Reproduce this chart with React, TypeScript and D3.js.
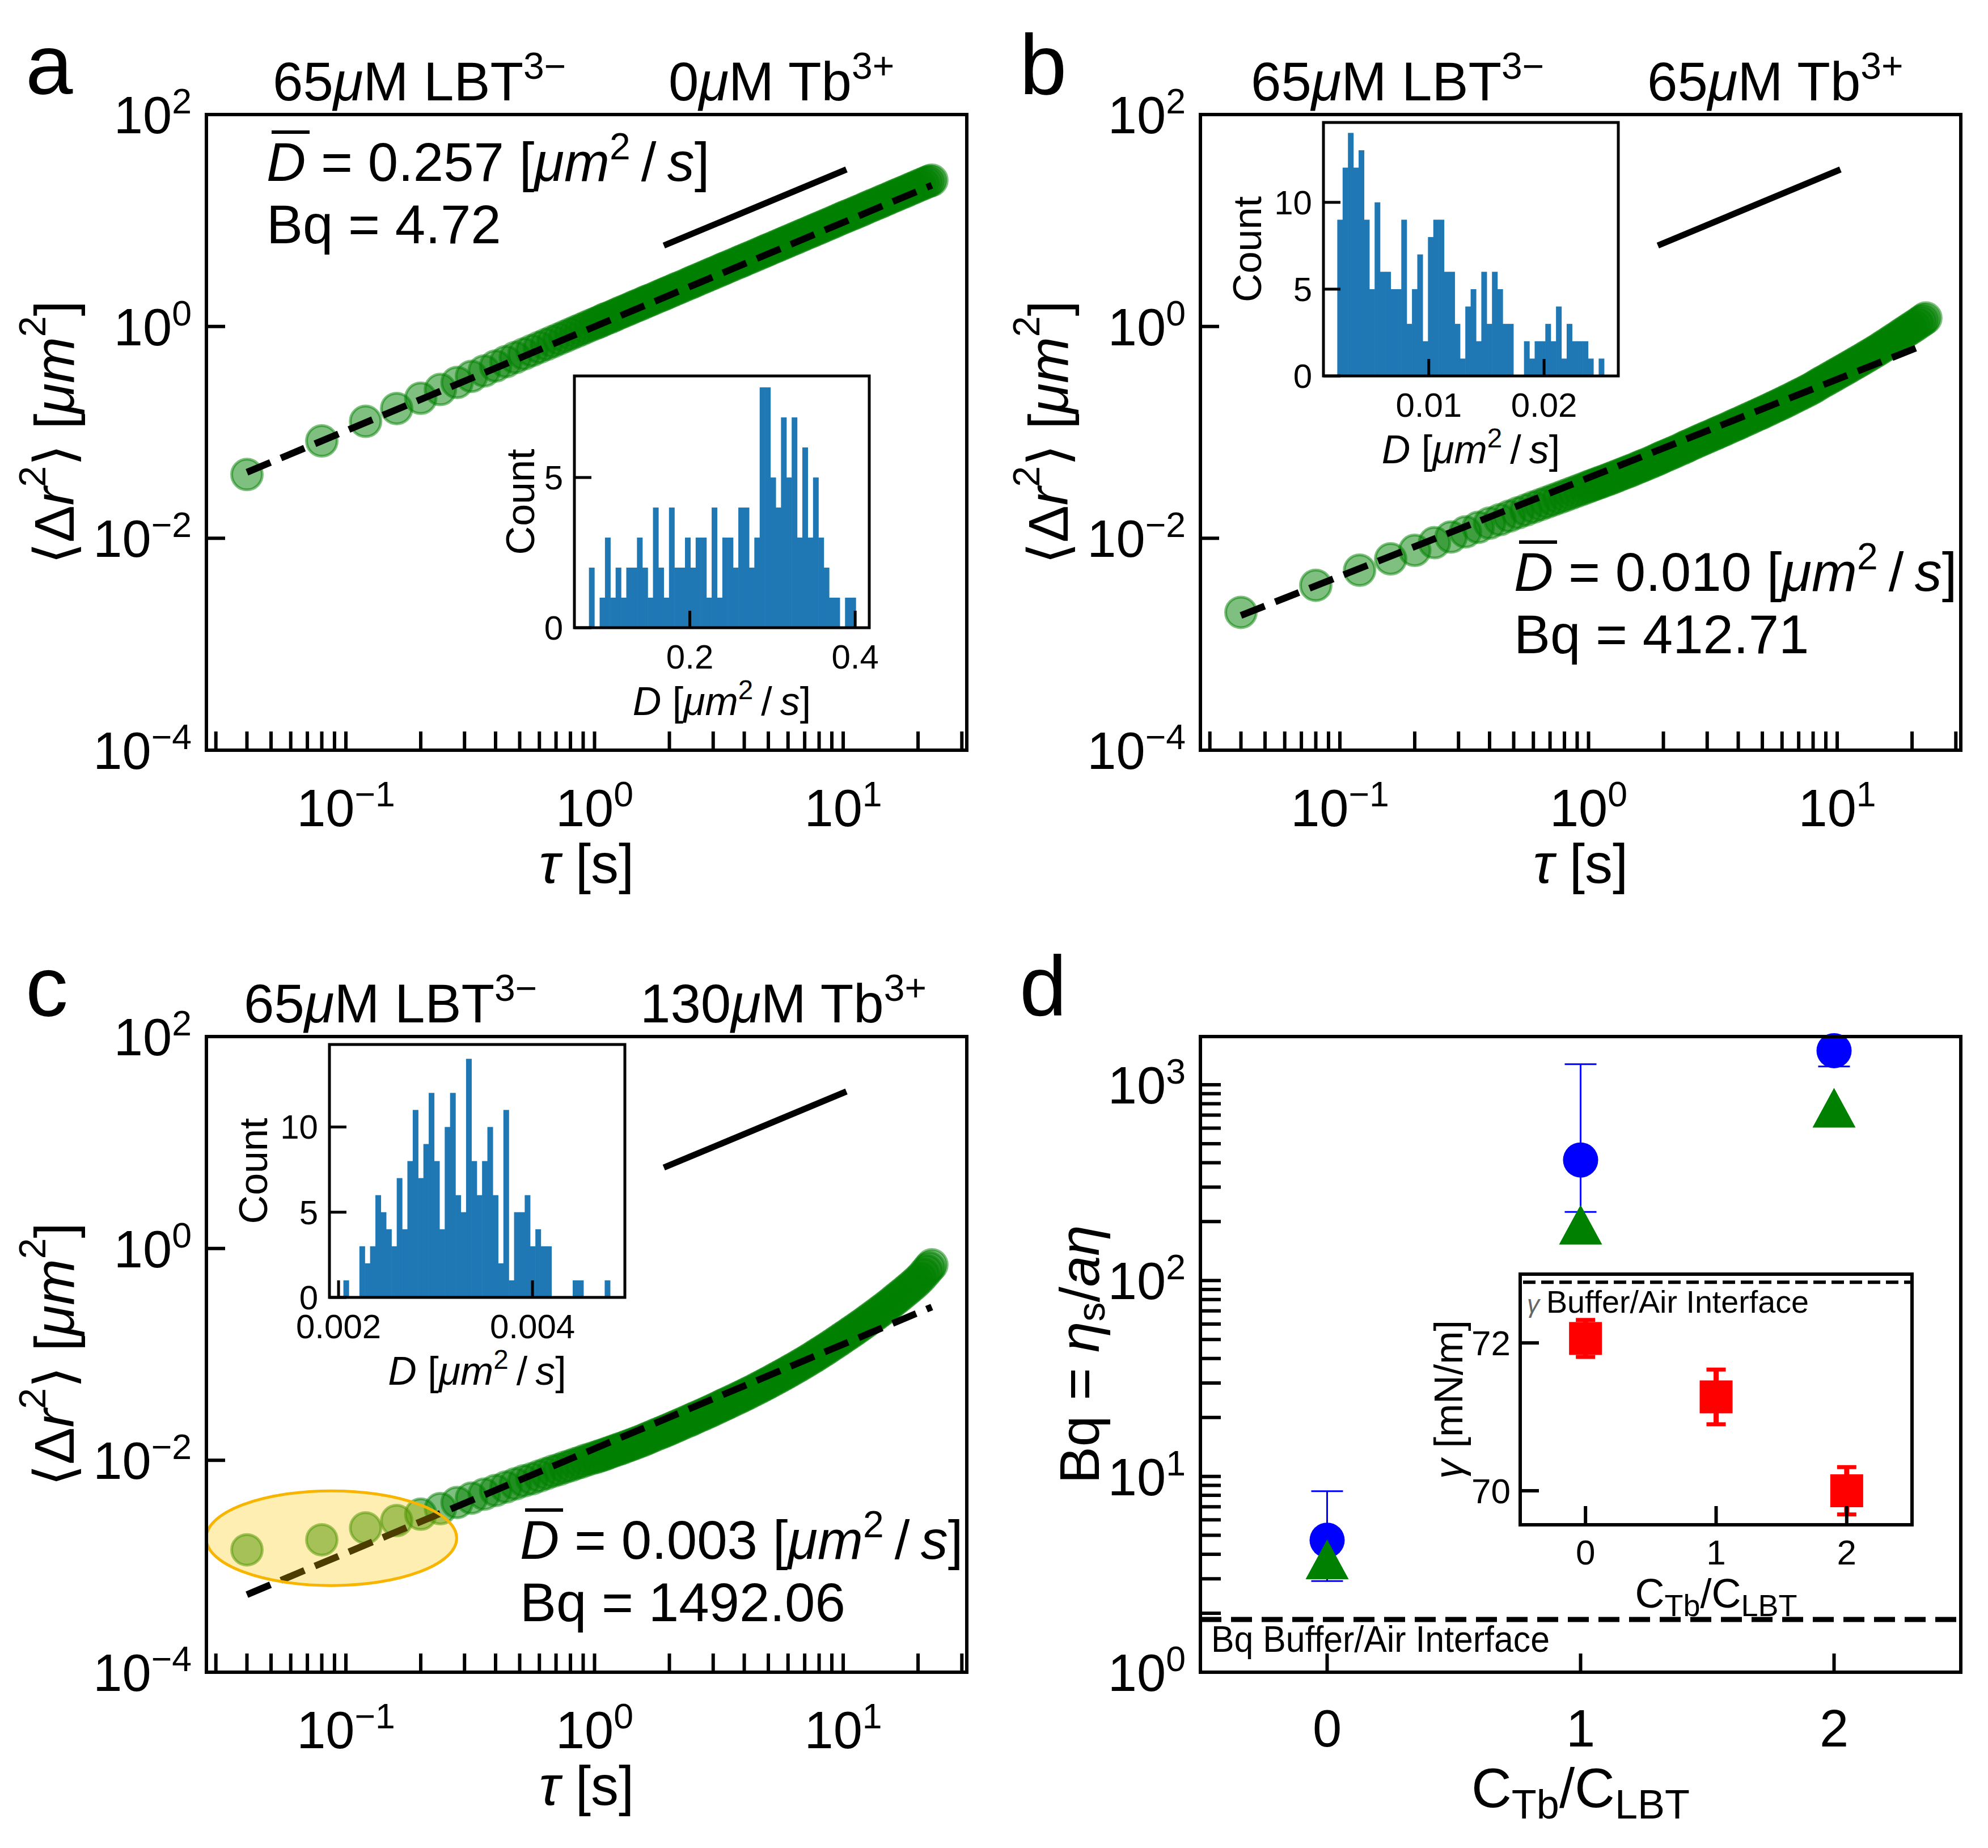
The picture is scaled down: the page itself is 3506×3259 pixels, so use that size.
import React, { useEffect } from 'react'
import * as d3 from 'd3'

const FONT = '"Liberation Sans", Arial, Helvetica, sans-serif'
const W = 3506
const H = 3259
const BW = 1341
const BH = 1121

// lag times [s]
const tau = [
  0.04, 0.08, 0.12, 0.16, 0.2, 0.24, 0.28, 0.32, 0.36, 0.4,
  0.44, 0.48, 0.52, 0.56, 0.6, 0.64, 0.68, 0.72, 0.76, 0.8,
  0.84, 0.88, 0.92, 0.96, 1.0,
  1.03, 1.06, 1.09, 1.12, 1.155, 1.19, 1.225, 1.26, 1.3, 1.34,
  1.38, 1.42, 1.46, 1.5, 1.55, 1.6, 1.64, 1.68, 1.74, 1.8,
  1.85, 1.9, 1.95, 2.0, 2.06, 2.12, 2.18, 2.24, 2.32, 2.4,
  2.46, 2.52, 2.6, 2.68, 2.76, 2.84, 2.92, 3.0, 3.1, 3.2,
  3.28, 3.36, 3.46, 3.56, 3.68, 3.8, 3.9, 4.0, 4.12, 4.24,
  4.38, 4.52, 4.66, 4.8, 4.92, 5.04, 5.2, 5.36, 5.52, 5.68,
  5.84, 6.0, 6.18, 6.36, 6.56, 6.76, 6.96, 7.16, 7.38, 7.6,
  7.82, 8.04, 8.28, 8.52, 8.78, 9.04, 9.32, 9.6, 9.88, 10.16,
  10.46, 10.76, 11.08, 11.4, 11.74, 12.08, 12.44, 12.8, 13.2, 13.6,
  14.0, 14.4, 14.84, 15.28, 15.74, 16.2, 16.68, 17.16, 17.68, 18.2,
  18.74, 19.28, 19.86, 20.44, 21.06, 21.68, 22.2, 22.72,
]

const msdA = [
  0.04, 0.083, 0.127, 0.168, 0.21, 0.254, 0.296, 0.338, 0.38, 0.423,
  0.465, 0.508, 0.55, 0.592, 0.635, 0.677, 0.72, 0.762, 0.805, 0.848,
  0.89, 0.933, 0.975, 1.02, 1.06,
  1.09, 1.12, 1.16, 1.19, 1.22, 1.26, 1.3, 1.34, 1.38, 1.42,
  1.46, 1.51, 1.55, 1.59, 1.64, 1.7, 1.74, 1.78, 1.84, 1.91,
  1.96, 2.01, 2.07, 2.12, 2.18, 2.25, 2.31, 2.37, 2.46, 2.54,
  2.61, 2.67, 2.76, 2.84, 2.93, 3.01, 3.1, 3.18, 3.29, 3.39,
  3.48, 3.56, 3.67, 3.77, 3.9, 4.03, 4.13, 4.24, 4.37, 4.49,
  4.64, 4.79, 4.94, 5.09, 5.22, 5.34, 5.51, 5.68, 5.85, 6.02,
  6.19, 6.36, 6.55, 6.74, 6.95, 7.17, 7.38, 7.59, 7.82, 8.06,
  8.29, 8.52, 8.78, 9.03, 9.31, 9.58, 9.88, 10.2, 10.5, 10.8,
  11.1, 11.4, 11.7, 12.1, 12.4, 12.8, 13.2, 13.6, 14.0, 14.4,
  14.8, 15.3, 15.7, 16.2, 16.7, 17.2, 17.7, 18.2, 18.7, 19.3,
  19.9, 20.4, 21.1, 21.7, 22.3, 23.0, 23.5, 24.0,
]
const msdB = [
  0.002, 0.0036, 0.005, 0.0064, 0.0077, 0.0091, 0.0103, 0.0115, 0.0127, 0.0139,
  0.015, 0.0162, 0.0174, 0.0185, 0.0197, 0.0208, 0.0219, 0.023, 0.0241, 0.0252,
  0.0263, 0.0274, 0.0285, 0.0296, 0.0307,
  0.0315, 0.0323, 0.0331, 0.0339, 0.0348, 0.0357, 0.0366, 0.0376, 0.0387, 0.0398,
  0.0409, 0.042, 0.0431, 0.0441, 0.0456, 0.047, 0.0482, 0.0493, 0.051, 0.0527,
  0.0542, 0.0558, 0.0574, 0.059, 0.0607, 0.0625, 0.0642, 0.066, 0.0685, 0.071,
  0.073, 0.075, 0.0775, 0.08, 0.0825, 0.085, 0.0875, 0.09, 0.093, 0.096,
  0.0985, 0.101, 0.104, 0.107, 0.111, 0.115, 0.118, 0.121, 0.125, 0.129,
  0.1335, 0.138, 0.1425, 0.147, 0.151, 0.155, 0.1605, 0.166, 0.1715, 0.177,
  0.1825, 0.188, 0.1945, 0.201, 0.2085, 0.216, 0.2235, 0.231, 0.2395, 0.248,
  0.257, 0.266, 0.278, 0.29, 0.3015, 0.313, 0.326, 0.339, 0.3525, 0.366,
  0.3805, 0.395, 0.411, 0.427, 0.4445, 0.462, 0.481, 0.5, 0.5225, 0.545,
  0.5675, 0.59, 0.6175, 0.645, 0.675, 0.705, 0.7375, 0.77, 0.8075, 0.845,
  0.885, 0.925, 0.9675, 1.01, 1.06, 1.11, 1.155, 1.2,
]
const msdC = [
  0.00143, 0.00178, 0.0023, 0.0027, 0.0031, 0.0035, 0.004, 0.0044, 0.0048, 0.0052,
  0.0056, 0.006, 0.0064, 0.0067, 0.0071, 0.0075, 0.0079, 0.0082, 0.0086, 0.0089,
  0.0093, 0.0096, 0.01, 0.0103, 0.0106,
  0.0108, 0.0111, 0.0113, 0.0116, 0.0119, 0.0122, 0.0125, 0.0128, 0.0131, 0.0135,
  0.0138, 0.0142, 0.0145, 0.0149, 0.0153, 0.0158, 0.0162, 0.0166, 0.0172, 0.0178,
  0.0182, 0.0187, 0.0192, 0.0197, 0.0203, 0.0209, 0.0215, 0.0221, 0.0229, 0.0237,
  0.0243, 0.025, 0.0258, 0.0266, 0.0274, 0.0283, 0.0291, 0.03, 0.0311, 0.0322,
  0.0331, 0.034, 0.0351, 0.0362, 0.0376, 0.039, 0.0401, 0.0413, 0.0427, 0.0442,
  0.0459, 0.0477, 0.0495, 0.0513, 0.0529, 0.0545, 0.0567, 0.059, 0.0612, 0.0635,
  0.0658, 0.0682, 0.071, 0.0738, 0.0769, 0.08, 0.0834, 0.0868, 0.0906, 0.0945,
  0.0987, 0.103, 0.1075, 0.112, 0.1175, 0.123, 0.129, 0.135, 0.1415, 0.148,
  0.155, 0.162, 0.17, 0.178, 0.187, 0.196, 0.206, 0.216, 0.228, 0.24,
  0.2525, 0.265, 0.28, 0.295, 0.3125, 0.33, 0.349, 0.368, 0.39, 0.412,
  0.437, 0.462, 0.493, 0.525, 0.57, 0.615, 0.66, 0.7,
]

// fitted lines [tau, msd] end points
const fitA = [[0.04, 0.042], [22.72, 21.5]]
const fitB = [[0.04, 0.00187], [22.72, 0.68]]
const fitC = [[0.04, 0.00054], [22.72, 0.28]]
// slope-one guide
const slopeOne = [[1.9, 5.8], [10.3, 30.3]]
// highlighted early-time region in c: tau range, msd range
const highlightTau = [0.0274, 0.279]
const highlightMsd = [0.000658, 0.00515]

const tauDomain = [10 ** -1.561, 10 ** 1.497]
const msdDomain = [1e-4, 1e2]
const msdYTicks = [1e-4, 1e-2, 1, 1e2]
const tauLabelTicks = [0.1, 1, 10]

// histograms of D (50 bins each)
const histA = [2, 0, 1, 3, 1, 2, 1, 2, 2, 3, 2, 1, 4, 2, 1, 4, 2, 2, 3, 2, 3, 3, 1, 4, 1, 3, 3, 2, 4, 4, 2, 3, 8, 8, 5, 4, 7, 5, 7, 3, 6, 3, 5, 3, 2, 1, 1, 0, 1, 1]
const histRangeA = [0.078, 0.4006]
const histB = [9, 12, 14, 12, 13, 9, 5, 10, 6, 6, 5, 5, 9, 3, 5, 7, 2, 8, 9, 9, 6, 6, 3, 1, 4, 5, 2, 6, 3, 6, 5, 3, 3, 0, 0, 2, 1, 2, 2, 3, 2, 4, 1, 3, 2, 2, 2, 1, 0, 1]
const histRangeB = [0.00206, 0.0252]
const histC = [1, 0, 0, 3, 2, 3, 6, 5, 4, 3, 7, 4, 8, 11, 7, 9, 12, 8, 4, 10, 12, 6, 5, 14, 8, 6, 8, 10, 6, 2, 11, 1, 5, 5, 6, 3, 4, 3, 3, 0, 0, 0, 0, 1, 1, 0, 0, 0, 0, 1]
const histRangeC = [0.00205, 0.0048]

// panel d
const ratio = [0, 1, 2]
const bqCircle = [4.72, 412.71, 1492.06]
const bqCircleLo = [2.92, 224, 1240]
const bqCircleHi = [8.4, 1274, 1560]
const bqTriangle = [3.77, 193, 763]
const bqBuffer = 1.86
const gamma = [72.06, 71.27, 70.0]
const gammaErr = [0.25, 0.37, 0.32]
const gammaBuffer = 72.82

const TICK = 92
const expStr = (v: number) => {
  const e = Math.round(Math.log10(v))
  return e < 0 ? '\u2212' + -e : String(e)
}

function Pow({ x, y, v, anchor = 'middle', size = TICK }: any) {
  return (
    <text x={x} y={y} textAnchor={anchor} fontSize={size}>
      10<tspan dy={-size * 0.38} fontSize={size * 0.68}>{expStr(v)}</tspan>
    </text>
  )
}

function Title({ x, y, amount, ion, charge }: any) {
  return (
    <text x={x} y={y} fontSize={96}>
      {amount}<tspan fontStyle="italic">{'\u03bc'}</tspan>M {ion}
      <tspan dy={-38} fontSize={66}>{charge}</tspan>
    </text>
  )
}

function DLabel({ x, y, size }: any) {
  return (
    <text x={x} y={y} fontSize={size} textAnchor="middle">
      <tspan fontStyle="italic">D</tspan> [<tspan fontStyle="italic">{'\u03bcm'}</tspan>
      <tspan dy={-size * 0.4} fontSize={size * 0.68}>2</tspan>
      <tspan dy={size * 0.4}>{'\u2009/\u2009'}</tspan><tspan fontStyle="italic">s</tspan>]
    </text>
  )
}

function HistInset({ left, top, w, h, counts, range, xDomain, yMax, xTicks, xFmt, yTicks, countX }: any) {
  const x = d3.scaleLinear().domain(xDomain).range([0, w])
  const y = d3.scaleLinear().domain([0, yMax]).range([h, 0])
  const bw = (range[1] - range[0]) / counts.length
  return (
    <g transform={`translate(${left},${top})`}>
      <rect x={0} y={0} width={w} height={h} fill="#fff" />
      {counts.map((c: number, i: number) =>
        c > 0 ? (
          <rect key={i} x={x(range[0] + i * bw)} y={y(c)} width={x(range[0] + (i + 1) * bw) - x(range[0] + i * bw) + 0.6}
            height={h - y(c)} fill="#1f77b4" />
        ) : null
      )}
      {xTicks.map((t: number) => (
        <g key={t}>
          <line x1={x(t)} x2={x(t)} y1={h} y2={h - 30} stroke="#000" strokeWidth={5} />
          <text x={x(t)} y={h + 72} fontSize={60} textAnchor="middle">{xFmt(t)}</text>
        </g>
      ))}
      {yTicks.map((t: number) => (
        <g key={t}>
          <line x1={0} x2={30} y1={y(t)} y2={y(t)} stroke="#000" strokeWidth={5} />
          <text x={-20} y={y(t) + 21} fontSize={60} textAnchor="end">{t}</text>
        </g>
      ))}
      <rect x={0} y={0} width={w} height={h} fill="none" stroke="#000" strokeWidth={5} />
      <text transform={`translate(${countX},${h / 2}) rotate(-90)`} fontSize={70} textAnchor="middle" dominantBaseline="central">Count</text>
      <DLabel x={w / 2} y={h + 154} size={70} />
    </g>
  )
}

function MsdPanel({ cfg }: any) {
  const x = d3.scaleLog().domain(tauDomain).range([0, BW])
  const y = d3.scaleLog().domain(msdDomain).range([BH, 0])
  const line = d3.line<number[]>().x(d => x(d[0])).y(d => y(d[1]))
  const ticks = x.ticks()
  const [dx, dy] = cfg.dPos
  return (
    <g transform={`translate(${cfg.left},${cfg.top})`}>
      <text x={-319} y={-36} fontSize={150}>{cfg.letter}</text>
      <Title x={cfg.titleX[0]} y={-25} amount="65" ion="LBT" charge={'3\u2212'} />
      <Title x={cfg.titleX[1]} y={-25} amount={cfg.tb} ion="Tb" charge="3+" />

      <g>
        {tau.map((t, i) => (
          <circle key={i} cx={x(t)} cy={y(cfg.msd[i])} r={27} fill="green" fillOpacity={0.5}
            stroke="green" strokeOpacity={0.5} strokeWidth={5} />
        ))}
      </g>
      <path d={line(cfg.fit) || ''} fill="none" stroke="#000" strokeWidth={12} strokeDasharray="45 20" />
      <path d={line(slopeOne) || ''} fill="none" stroke="#000" strokeWidth={11} />

      {cfg.highlight && (
        <ellipse
          cx={(x(highlightTau[0]) + x(highlightTau[1])) / 2}
          cy={(y(highlightMsd[0]) + y(highlightMsd[1])) / 2}
          rx={(x(highlightTau[1]) - x(highlightTau[0])) / 2}
          ry={(y(highlightMsd[0]) - y(highlightMsd[1])) / 2}
          fill="rgb(255,200,0)" fillOpacity={0.3} stroke="#f7b500" strokeWidth={5} />
      )}

      <text x={dx} y={dy} fontSize={96}>
        <tspan fontStyle="italic">D</tspan> = {cfg.dVal} [<tspan fontStyle="italic">{'\u03bcm'}</tspan>
        <tspan dy={-38} fontSize={66}>2</tspan><tspan dy={38}>{'\u2009/\u2009'}</tspan><tspan fontStyle="italic">s</tspan>]
      </text>
      <line x1={dx + 9} x2={dx + 76} y1={dy - 86} y2={dy - 86} stroke="#000" strokeWidth={6} />
      <text x={dx} y={dy + 110} fontSize={96}>Bq = {cfg.bq}</text>

      <HistInset {...cfg.inset} />

      <rect x={0} y={0} width={BW} height={BH} fill="none" stroke="#000" strokeWidth={6} />
      {ticks.map((t, i) => (
        <line key={i} x1={x(t)} x2={x(t)} y1={BH} y2={BH - 33} stroke="#000" strokeWidth={6} />
      ))}
      {tauLabelTicks.map(t => <Pow key={t} x={x(t)} y={BH + 134} v={t} />)}
      {msdYTicks.map(t => (
        <g key={t}>
          <line x1={0} x2={33} y1={y(t)} y2={y(t)} stroke="#000" strokeWidth={6} />
          <Pow x={-26} y={y(t) + 33} v={t} anchor="end" />
        </g>
      ))}
      <text x={BW / 2} y={BH + 234} fontSize={98} textAnchor="middle">
        <tspan fontStyle="italic">{'\u03c4'}</tspan> [s]
      </text>
      <text transform={`translate(${-268},${BH / 2}) rotate(-90)`} fontSize={98} textAnchor="middle" dominantBaseline="central">
        {'\u27e8\u0394'}<tspan fontStyle="italic">r</tspan><tspan dy={-39} fontSize={66}>2</tspan>
        <tspan dy={39}>{'\u27e9 ['}</tspan><tspan fontStyle="italic">{'\u03bcm'}</tspan>
        <tspan dy={-39} fontSize={66}>2</tspan><tspan dy={39}>]</tspan>
      </text>
    </g>
  )
}

function GammaInset({ left, top, w, h }: any) {
  const x = d3.scaleLinear().domain([-0.5, 2.5]).range([0, w])
  const y = d3.scaleLinear().domain([69.54, 72.93]).range([h, 0])
  return (
    <g transform={`translate(${left},${top})`}>
      <rect x={0} y={0} width={w} height={h} fill="#fff" />
      <line x1={5} x2={w} y1={y(gammaBuffer)} y2={y(gammaBuffer)} stroke="#000" strokeWidth={6} strokeDasharray="22 10" />
      <text x={12} y={68} fontSize={44} fontStyle="italic" fill="#666">{'\u03b3'}</text>
      <text x={46} y={68} fontSize={56} textLength={463} lengthAdjust="spacingAndGlyphs">Buffer/Air Interface</text>
      {ratio.map((r, i) => (
        <g key={r}>
          <line x1={x(r)} x2={x(r)} y1={y(gamma[i] - gammaErr[i])} y2={y(gamma[i] + gammaErr[i])} stroke="red" strokeWidth={9} />
          <line x1={x(r) - 17} x2={x(r) + 17} y1={y(gamma[i] - gammaErr[i])} y2={y(gamma[i] - gammaErr[i])} stroke="red" strokeWidth={7} />
          <line x1={x(r) - 17} x2={x(r) + 17} y1={y(gamma[i] + gammaErr[i])} y2={y(gamma[i] + gammaErr[i])} stroke="red" strokeWidth={7} />
          <rect x={x(r) - 29} y={y(gamma[i]) - 29} width={58} height={58} fill="red" />
        </g>
      ))}
      <rect x={0} y={0} width={w} height={h} fill="none" stroke="#000" strokeWidth={6} />
      {ratio.map(r => (
        <g key={r}>
          <line x1={x(r)} x2={x(r)} y1={h} y2={h - 33} stroke="#000" strokeWidth={6} />
          <text x={x(r)} y={h + 70} fontSize={62} textAnchor="middle">{r}</text>
        </g>
      ))}
      {[70, 72].map(t => (
        <g key={t}>
          <line x1={0} x2={33} y1={y(t)} y2={y(t)} stroke="#000" strokeWidth={6} />
          <text x={-17} y={y(t) + 22} fontSize={62} textAnchor="end">{t}</text>
        </g>
      ))}
      <text x={w / 2} y={h + 146} fontSize={72} textAnchor="middle">
        C<tspan dy={15} fontSize={54}>Tb</tspan><tspan dy={-15}>/C</tspan><tspan dy={15} fontSize={54}>LBT</tspan>
      </text>
      <text transform={`translate(${-126},${h / 2}) rotate(-90)`} fontSize={70} textAnchor="middle" dominantBaseline="central">
        <tspan fontStyle="italic">{'\u03b3'}</tspan> [mN/m]
      </text>
    </g>
  )
}

function BqPanel({ left, top }: any) {
  const x = d3.scaleLinear().domain([-0.5, 2.5]).range([0, BW])
  const y = d3.scaleLog().domain([1, 10 ** 3.246]).range([BH, 0])
  const yTicks = y.ticks()
  const tw = 76
  const th = 70
  return (
    <g transform={`translate(${left},${top})`}>
      <text x={-319} y={-37} fontSize={150}>d</text>
      <line x1={0} x2={BW} y1={y(bqBuffer)} y2={y(bqBuffer)} stroke="#000" strokeWidth={9} strokeDasharray="37 17" />
      <text x={19} y={1085} fontSize={64} textLength={597} lengthAdjust="spacingAndGlyphs">Bq Buffer/Air Interface</text>

      {ratio.map((r, i) => (
        <g key={r}>
          <line x1={x(r)} x2={x(r)} y1={y(bqCircleLo[i])} y2={y(bqCircleHi[i])} stroke="blue" strokeWidth={3} />
          <line x1={x(r) - 28} x2={x(r) + 28} y1={y(bqCircleLo[i])} y2={y(bqCircleLo[i])} stroke="blue" strokeWidth={3} />
          <line x1={x(r) - 28} x2={x(r) + 28} y1={y(bqCircleHi[i])} y2={y(bqCircleHi[i])} stroke="blue" strokeWidth={3} />
          <circle cx={x(r)} cy={y(bqCircle[i])} r={31} fill="blue" />
        </g>
      ))}
      {ratio.map((r, i) => (
        <path key={r} transform={`translate(${x(r)},${y(bqTriangle[i])})`}
          d={`M0,${-th / 2}L${tw / 2},${th / 2}L${-tw / 2},${th / 2}Z`} fill="green" />
      ))}

      <GammaInset left={564} top={419} w={691} h={442} />

      <rect x={0} y={0} width={BW} height={BH} fill="none" stroke="#000" strokeWidth={6} />
      {yTicks.map((t, i) => (
        <line key={i} x1={0} x2={36} y1={y(t)} y2={y(t)} stroke="#000" strokeWidth={6} />
      ))}
      {[1, 10, 100, 1000].map(t => <Pow key={t} x={-26} y={y(t) + 33} v={t} anchor="end" />)}
      {ratio.map(r => (
        <g key={r}>
          <line x1={x(r)} x2={x(r)} y1={BH} y2={BH - 33} stroke="#000" strokeWidth={6} />
          <text x={x(r)} y={BH + 131} fontSize={TICK} textAnchor="middle">{r}</text>
        </g>
      ))}
      <text x={BW / 2} y={BH + 238} fontSize={98} textAnchor="middle">
        C<tspan dy={20} fontSize={72}>Tb</tspan><tspan dy={-20}>/C</tspan><tspan dy={20} fontSize={72}>LBT</tspan>
      </text>
      <text transform={`translate(${-213},${BH / 2}) rotate(-90)`} fontSize={98} textAnchor="middle" dominantBaseline="central">
        Bq = <tspan fontStyle="italic">{'\u03b7'}</tspan><tspan dy={20} fontSize={68}>s</tspan>
        <tspan dy={-20}>/</tspan><tspan fontStyle="italic">a{'\u03b7'}</tspan>
      </text>
    </g>
  )
}

const panels = [
  {
    letter: 'a', left: 364, top: 202, msd: msdA, fit: fitA, tb: '0', titleX: [117, 815],
    dVal: '0.257', bq: '4.72', dPos: [106, 117], highlight: false,
    inset: { left: 649, top: 461, w: 520, h: 444, counts: histA, range: histRangeA, xDomain: [0.0604, 0.417], yMax: 8.38,
      xTicks: [0.2, 0.4], xFmt: (t: number) => t.toFixed(1), yTicks: [0, 5], countX: -95 },
  },
  {
    letter: 'b', left: 2117, top: 202, msd: msdB, fit: fitB, tb: '65', titleX: [89, 788],
    dVal: '0.010', bq: '412.71', dPos: [553, 840], highlight: false,
    inset: { left: 217, top: 14, w: 520, h: 447, counts: histB, range: histRangeB, xDomain: [0.00086, 0.02644], yMax: 14.6,
      xTicks: [0.01, 0.02], xFmt: (t: number) => t.toFixed(2), yTicks: [0, 5, 10], countX: -134 },
  },
  {
    letter: 'c', left: 364, top: 1828, msd: msdC, fit: fitC, tb: '130', titleX: [66, 765],
    dVal: '0.003', bq: '1492.06', dPos: [553, 921], highlight: true,
    inset: { left: 217, top: 14, w: 521, h: 446, counts: histC, range: histRangeC, xDomain: [0.001906, 0.004953], yMax: 14.84,
      xTicks: [0.002, 0.004], xFmt: (t: number) => t.toFixed(3), yTicks: [0, 5, 10], countX: -134 },
  },
]

export default function App() {
  useEffect(() => {
    document.body.style.margin = '0'
  }, [])
  return (
    <svg width={W} height={H} viewBox={`0 0 ${W} ${H}`} fontFamily={FONT} style={{ display: 'block', background: '#fff' }}>
      <rect width={W} height={H} fill="#fff" />
      {panels.map(p => <MsdPanel key={p.letter} cfg={p} />)}
      <BqPanel left={2117} top={1828} />
    </svg>
  )
}
